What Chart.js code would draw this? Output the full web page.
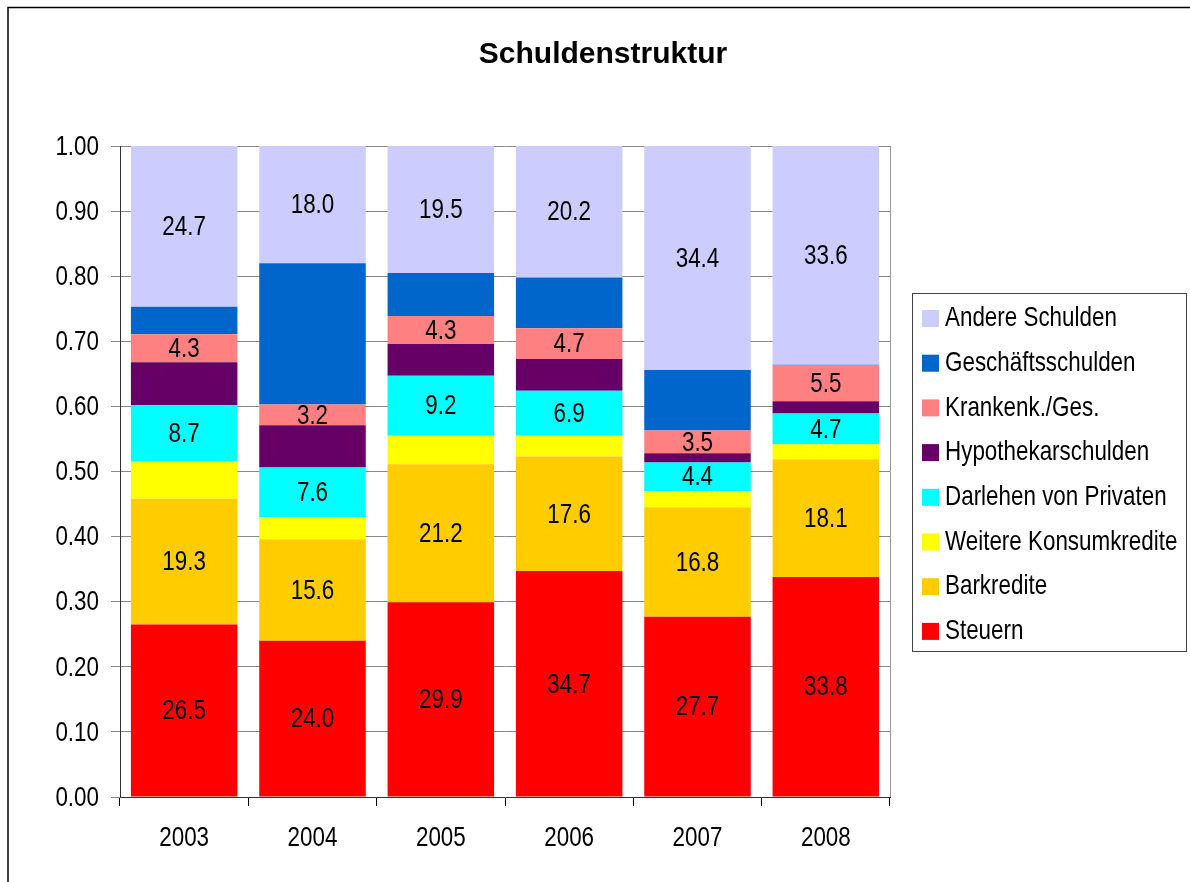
<!DOCTYPE html>
<html>
<head>
<meta charset="utf-8">
<script src="https://cdn.jsdelivr.net/npm/chart.js@4.4.1/dist/chart.umd.min.js"></script>
<style>
  html, body { margin: 0; padding: 0; background: #fff; }
  #wrap { width: 1190px; height: 882px; }
</style>
</head>
<body>
<div id="wrap"><canvas id="debtChart" width="1190" height="882"></canvas></div>
<script>
const years = ['2003', '2004', '2005', '2006', '2007', '2008'];

// share of total debt in percent, bottom of the stack first
const steuern      = [26.5, 24.0, 29.9, 34.7, 27.7, 33.8];
const barkredite   = [19.3, 15.6, 21.2, 17.6, 16.8, 18.1];
const weitereKons  = [5.7, 3.4, 4.4, 3.2, 2.5, 2.3];
const darlehen     = [8.7, 7.6, 9.2, 6.9, 4.4, 4.7];
const hypothek     = [6.6, 6.5, 4.9, 4.9, 1.4, 1.9];
const krankenkasse = [4.3, 3.2, 4.3, 4.7, 3.5, 5.5];
const geschaeft    = [4.2, 21.7, 6.6, 7.8, 9.3, 0.1];
const andere       = [24.7, 18.0, 19.5, 20.2, 34.4, 33.6];

const series = [
  { label: 'Steuern', values: steuern, color: '#FF0000', showValues: true },
  { label: 'Barkredite', values: barkredite, color: '#FFCC00', showValues: true },
  { label: 'Weitere Konsumkredite', values: weitereKons, color: '#FFFF00', showValues: false },
  { label: 'Darlehen von Privaten', values: darlehen, color: '#00FFFF', showValues: true },
  { label: 'Hypothekarschulden', values: hypothek, color: '#660066', showValues: false },
  { label: 'Krankenk./Ges.', values: krankenkasse, color: '#FF8080', showValues: true },
  { label: 'Geschäftsschulden', values: geschaeft, color: '#0066CC', showValues: false },
  { label: 'Andere Schulden', values: andere, color: '#CCCCFF', showValues: true }
];

// no narrow font installed: squeeze Liberation Sans like Arial Narrow
const SQUEEZE = 0.8;
const textFont = '28px "Liberation Sans", Arial, sans-serif';

function narrowText(ctx, text, x, y, align) {
  ctx.save();
  ctx.font = textFont;
  ctx.fillStyle = '#000';
  ctx.textBaseline = 'middle';
  ctx.textAlign = align;
  ctx.scale(SQUEEZE, 1);
  ctx.fillText(text, x / SQUEEZE, y);
  ctx.restore();
}

const extras = {
  id: 'extras',
  afterDatasetsDraw(chart) {
    const ctx = chart.ctx;
    series.forEach((s, i) => {
      if (!s.showValues) return;
      chart.getDatasetMeta(i).data.forEach((bar, j) => {
        const c = bar.getCenterPoint();
        narrowText(ctx, s.values[j].toFixed(1), c.x, c.y + 1, 'center');
      });
    });
  },
  afterDraw(chart) {
    const ctx = chart.ctx;
    const area = chart.chartArea;
    const xs = chart.scales.x, ys = chart.scales.y;

    // axis labels, placed on the library's tick positions
    ys.ticks.forEach((t, i) => {
      narrowText(ctx, t.value.toFixed(2), area.left - 21, ys.getPixelForTick(i) + 1, 'right');
    });
    xs.ticks.forEach((t, i) => {
      narrowText(ctx, years[i], xs.getPixelForTick(i), 838, 'center');
    });

    ctx.save();
    // right edge of the plot area
    ctx.strokeStyle = '#999';
    ctx.lineWidth = 1;
    ctx.beginPath();
    ctx.moveTo(area.right + 0.5, area.top);
    ctx.lineTo(area.right + 0.5, area.bottom);
    ctx.stroke();

    // outer chart frame (runs past the right and bottom edge)
    ctx.strokeStyle = '#000';
    ctx.lineWidth = 1.5;
    ctx.strokeRect(8, 7.5, 1200, 900);

    // title
    ctx.fillStyle = '#000';
    ctx.font = 'bold 30px "Liberation Sans", Arial, sans-serif';
    ctx.textAlign = 'center';
    ctx.textBaseline = 'middle';
    ctx.fillText('Schuldenstruktur', 603, 55);

    // legend, top entry is the top of the stack
    const lx = 912, ly = 293, lw = 274, lh = 358;
    ctx.strokeStyle = '#444';
    ctx.lineWidth = 1;
    ctx.strokeRect(lx + 0.5, ly + 0.5, lw, lh);
    series.slice().reverse().forEach((s, k) => {
      const cy = 318.5 + k * 44.7;
      ctx.fillStyle = s.color;
      ctx.fillRect(922, cy - 8.5, 17, 17);
      narrowText(ctx, s.label, 945, cy, 'left');
    });
    ctx.restore();
  }
};

const ctx = document.getElementById('debtChart').getContext('2d');
const chart = new Chart(ctx, {
  type: 'bar',
  data: {
    labels: years,
    datasets: series.map(s => ({
      label: s.label,
      data: s.values.map(v => v / 100),
      backgroundColor: s.color,
      borderWidth: 0,
      categoryPercentage: 1,
      barPercentage: 0.83
    }))
  },
  options: {
    responsive: false,
    animation: false,
    layout: { padding: { left: 0, top: 146, right: 300, bottom: 25 } },
    plugins: {
      legend: { display: false },
      title: { display: false },
      tooltip: { enabled: false }
    },
    scales: {
      x: {
        stacked: true,
        grid: { offset: true, drawOnChartArea: false, tickLength: 9, color: '#000' },
        border: { color: '#333' },
        ticks: { color: 'rgba(0,0,0,0)', padding: 16, font: { size: 26 } },
        afterFit(scale) { scale.height = 60; }
      },
      y: {
        stacked: true,
        min: 0,
        max: 1,
        grid: { color: '#888', tickLength: 9 },
        border: { color: '#333' },
        ticks: {
          stepSize: 0.1,
          color: 'rgba(0,0,0,0)',
          padding: 12,
          font: { size: 26 },
          callback: v => v.toFixed(2)
        },
        afterFit(scale) { scale.width = 120; }
      }
    }
  },
  plugins: [extras]
});
</script>
</body>
</html>
